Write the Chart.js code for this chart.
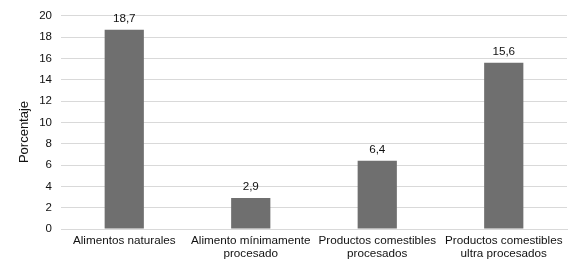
<!DOCTYPE html>
<html>
<head>
<meta charset="utf-8">
<script src="https://cdn.jsdelivr.net/npm/chart.js@4"></script>
<style>
  html, body { margin: 0; padding: 0; background: #fff; }
  #wrap { width: 584px; height: 265px; }
</style>
</head>
<body>
<div id="wrap"><canvas id="chart" width="584" height="265"></canvas></div>
<script>
// Chart data
const categories = [
    'Alimentos naturales',
    ['Alimento mínimamente', 'procesado'],
    ['Productos comestibles', 'procesados'],
    ['Productos comestibles', 'ultra procesados']
];
const percentages = [18.7, 2.9, 6.4, 15.6];
const yTicks = [0, 2, 4, 6, 8, 10, 12, 14, 16, 18, 20];
const yTitle = 'Porcentaje';

const fontFamily = '"Liberation Sans", Arial, sans-serif';
const textColor = '#111111';

// Draws the value above each bar (decimal comma) and the y axis title.
const valueLabels = {
    id: 'valueLabels',
    afterDatasetsDraw(chart) {
        const ctx = chart.ctx;
        const meta = chart.getDatasetMeta(0);
        ctx.save();
        ctx.font = '11.7px ' + fontFamily;
        ctx.fillStyle = textColor;
        ctx.textAlign = 'center';
        ctx.textBaseline = 'bottom';
        meta.data.forEach(function (bar, i) {
            const text = percentages[i].toFixed(1).replace('.', ',');
            ctx.fillText(text, bar.x, bar.y - 5);
        });
        ctx.restore();

        // y title, a little below the middle of the plot as in the original
        ctx.save();
        ctx.translate(24, 132);
        ctx.rotate(-Math.PI / 2);
        ctx.font = '13px ' + fontFamily;
        ctx.fillStyle = textColor;
        ctx.textAlign = 'center';
        ctx.textBaseline = 'middle';
        ctx.fillText(yTitle, 0, 0);
        ctx.restore();
    }
};

new Chart(document.getElementById('chart'), {
    type: 'bar',
    data: {
        labels: categories,
        datasets: [{
            data: percentages,
            backgroundColor: '#6f6f6f',
            borderWidth: 0,
            categoryPercentage: 1,
            barPercentage: 0.31
        }]
    },
    options: {
        responsive: false,
        animation: false,
        layout: { padding: { left: 0, right: 17, top: 13, bottom: 0 } },
        plugins: {
            legend: { display: false },
            tooltip: { enabled: false }
        },
        scales: {
            x: {
                grid: { display: false, drawTicks: false },
                border: { display: true, color: '#d9d9d9', width: 1 },
                ticks: {
                    color: textColor,
                    font: { family: fontFamily, size: 11.7, lineHeight: 1.05 },
                    padding: 6,
                    maxRotation: 0,
                    autoSkip: false
                },
                afterFit(scale) { scale.height = 36; }
            },
            y: {
                min: 0,
                max: 20,
                afterBuildTicks(scale) {
                    scale.ticks = yTicks.map(v => ({ value: v }));
                },
                grid: { color: '#d9d9d9', lineWidth: 1, drawTicks: false },
                border: { display: false },
                ticks: {
                    color: textColor,
                    font: { family: fontFamily, size: 11.5 },
                    padding: 9
                },
                afterFit(scale) { scale.width = 61; }
            }
        }
    },
    plugins: [valueLabels]
});
</script>
</body>
</html>
